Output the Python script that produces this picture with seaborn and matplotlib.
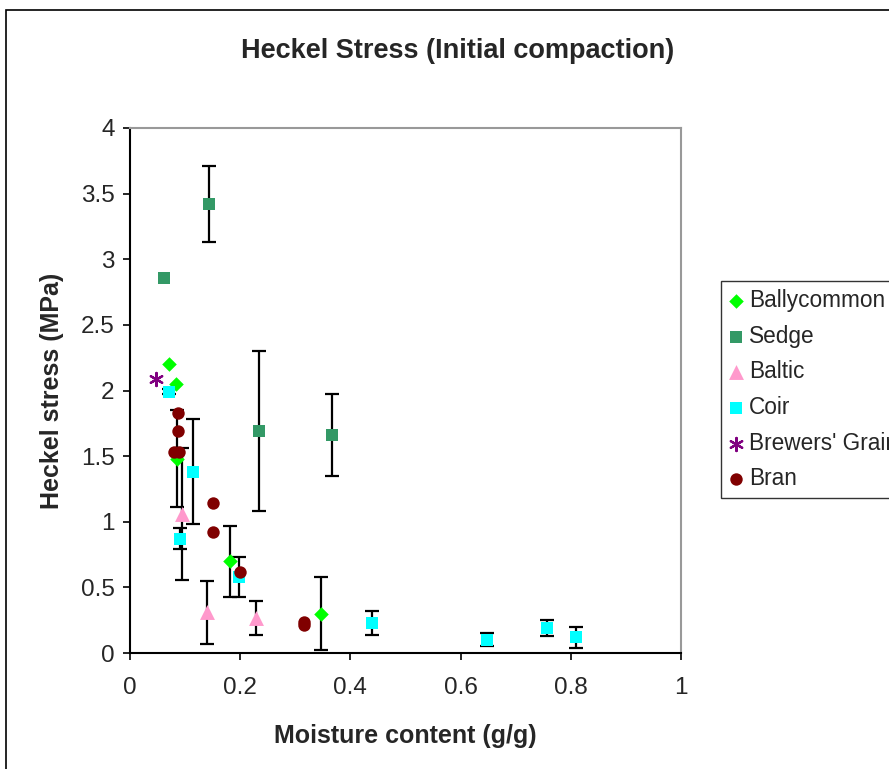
import pandas as pd
import matplotlib
matplotlib.use("Agg")
from matplotlib import pyplot as plt
from matplotlib.patches import Rectangle
import seaborn as sns

# 数据：含水率 (g/g)、Heckel 应力 (MPa)、误差
ballycommon_x = [0.071, 0.083, 0.086, 0.181, 0.347]
ballycommon_y = [2.20, 2.05, 1.48, 0.70, 0.30]
ballycommon_err = [0, 0, 0.37, 0.27, 0.28]

sedge_x = [0.062, 0.143, 0.234, 0.367]
sedge_y = [2.86, 3.42, 1.69, 1.66]
sedge_err = [0, 0.29, 0.61, 0.31]

baltic_x = [0.095, 0.139, 0.229]
baltic_y = [1.06, 0.31, 0.27]
baltic_err = [0.50, 0.24, 0.13]

coir_x = [0.071, 0.091, 0.115, 0.197, 0.440, 0.648, 0.757, 0.810]
coir_y = [1.99, 0.87, 1.38, 0.58, 0.23, 0.10, 0.19, 0.12]
coir_err = [0.02, 0.08, 0.40, 0.15, 0.09, 0.05, 0.06, 0.08]

brewers_x = [0.048]
brewers_y = [2.09]
brewers_err = [0]

bran_x = [0.088, 0.088, 0.079, 0.089, 0.150, 0.150, 0.200, 0.315, 0.315]
bran_y = [1.83, 1.69, 1.53, 1.53, 1.14, 0.92, 0.62, 0.21, 0.24]
bran_err = [0, 0, 0, 0, 0, 0, 0, 0, 0]

series_names = ["Ballycommon", "Sedge", "Baltic", "Coir", "Brewers' Grain", "Bran"]
series_data = [
    (ballycommon_x, ballycommon_y, ballycommon_err),
    (sedge_x, sedge_y, sedge_err),
    (baltic_x, baltic_y, baltic_err),
    (coir_x, coir_y, coir_err),
    (brewers_x, brewers_y, brewers_err),
    (bran_x, bran_y, bran_err),
]

# 样式
colors = ["#00FF00", "#339966", "#FF99CC", "#00FFFF", "#800080", "#800000"]
markers = ["D", "s", "^", "s", (6, 2, 0), "o"]
sizes = [55, 68, 115, 68, 90, 80]

sns.set_theme(style="white")
plt.rcParams["font.family"] = ["Liberation Sans", "DejaVu Sans"]
plt.rcParams["font.size"] = 16

fig = plt.figure(figsize=(8.89, 7.69), dpi=100)
ax = fig.add_axes([130 / 889, 116 / 769, 551 / 889, 525 / 769])

frames = []
for name, (xs, ys, es) in zip(series_names, series_data):
    frames.append(pd.DataFrame({"moisture": xs, "stress": ys, "err": es, "series": name}))
df = pd.concat(frames, ignore_index=True)

# 误差棒
eb = df[df["err"] > 0]
ax.errorbar(eb["moisture"], eb["stress"], yerr=eb["err"], fmt="none",
            ecolor="black", elinewidth=1.6, capsize=5, capthick=1.6, zorder=2)

# 散点
for name, c, m, s in zip(series_names, colors, markers, sizes):
    sub = df[df["series"] == name]
    lw = 1.6 if name == "Brewers' Grain" else 0
    sns.scatterplot(data=sub, x="moisture", y="stress", ax=ax, marker=m, s=s,
                    color=c, edgecolor=c, linewidth=lw, label=name, zorder=3,
                    legend=False)

ax.set_xlim(0, 1)
ax.set_ylim(0, 4)
ax.set_xticks([0, 0.2, 0.4, 0.6, 0.8, 1])
ax.set_xticklabels(["0", "0.2", "0.4", "0.6", "0.8", "1"])
ax.set_yticks([0, 0.5, 1, 1.5, 2, 2.5, 3, 3.5, 4])
ax.set_yticklabels(["0", "0.5", "1", "1.5", "2", "2.5", "3", "3.5", "4"])
ax.tick_params(axis="both", direction="out", length=5, width=1.2, color="black",
               labelsize=17.5, left=True, bottom=True)
ax.tick_params(axis="x", pad=12)
ax.tick_params(axis="y", pad=6)

for side in ["left", "bottom"]:
    ax.spines[side].set_color("black")
    ax.spines[side].set_linewidth(1.5)
for side in ["top", "right"]:
    ax.spines[side].set_color("#999999")
    ax.spines[side].set_linewidth(1.5)

ax.set_xlabel("Moisture content (g/g)", fontsize=18, fontweight="bold", labelpad=18)
ax.set_ylabel("Heckel stress (MPa)", fontsize=18, fontweight="bold", labelpad=12)
fig.text(458 / 889, 1 - 51 / 769, "Heckel Stress (Initial compaction)",
         ha="center", va="center", fontsize=19.5, fontweight="bold")

handles, labels = ax.get_legend_handles_labels()
leg = ax.legend(handles, labels, loc="upper left",
                bbox_to_anchor=(721 / 889, 1 - 281 / 769),
                bbox_transform=fig.transFigure, borderaxespad=0,
                frameon=True, fancybox=False, edgecolor="black",
                fontsize=16.3, handlelength=0.6, handletextpad=0.3,
                labelspacing=0.56, borderpad=0.35)
leg.get_frame().set_linewidth(1.0)

# 外框
fig.patches.append(Rectangle((6 / 889, -0.05), 1.2, 1 - 10 / 769 + 0.05,
                             transform=fig.transFigure, fill=False,
                             edgecolor="black", linewidth=1.2))

plt.savefig("out.png", dpi=100)
